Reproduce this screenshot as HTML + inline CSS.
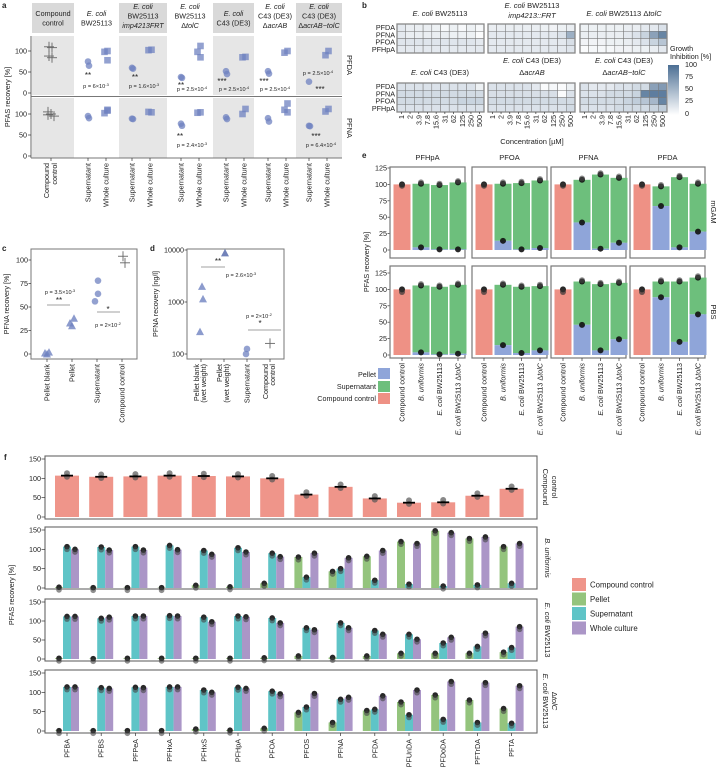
<!DOCTYPE html>
<html><head><meta charset="utf-8">
<style>
html,body{margin:0;padding:0;background:#fff;}
svg{display:block;font-family:"Liberation Sans",Arial,sans-serif;}
text{fill:#222;}
</style></head>
<body>
<svg id="s" xmlns="http://www.w3.org/2000/svg" width="718" height="774" viewBox="0 0 718 774">
<g font-weight="bold" font-size="8">
<text x="2" y="8">a</text><text x="362" y="8">b</text><text x="362" y="158">e</text>
<text x="2" y="251">c</text><text x="150" y="251">d</text><text x="4" y="460">f</text>
</g>
</svg>
<script>
var S=document.getElementById('s'),NS='http://www.w3.org/2000/svg';
function E(t,a,h){var e=document.createElementNS(NS,t);for(var k in a)e.setAttribute(k,a[k]);if(h!==undefined)e.innerHTML=h;S.appendChild(e);return e;}
function T(x,y,h,o){o=o||{};var a={x:x,y:y,'font-size':o.s||7,'text-anchor':o.a||'start'};if(o.r!==undefined)a.transform='rotate('+o.r+' '+x+' '+y+')';if(o.fill)a.fill=o.fill;return E('text',a,h);}
function R(x,y,w,h,f,o){var a={x:x,y:y,width:w,height:h,fill:f};if(o)for(var k in o)a[k]=o[k];return E('rect',a);}
function L(x1,y1,x2,y2,c,w){return E('line',{x1:x1,y1:y1,x2:x2,y2:y2,stroke:c||'#333','stroke-width':w||0.7});}
var PT='#6f82c0';
function circ(x,y,r,f,op){E('circle',{cx:x,cy:y,r:r||3.3,fill:f||PT,'fill-opacity':op||0.75});}
function sq(x,y){R(x-3.3,y-3.3,6.6,6.6,PT,{'fill-opacity':0.75});}
function cross(x,y){L(x-5,y,x+5,y,'#666',0.9);L(x,y-5,x,y+5,'#666',0.9);}
function tri(x,y,f){E('polygon',{points:(x-4)+','+(y+3.5)+' '+(x+4)+','+(y+3.5)+' '+x+','+(y-4),fill:f||PT,'fill-opacity':0.8});}

/* ===== Panel a ===== */
var cols=[[32,74,1],[75,118,0],[119,167,1],[168,212,0],[213,254,1],[255,295,0],[296,342,1]];
cols.forEach(function(c){if(c[2]){R(c[0],3,c[1]-c[0],30,'#d9d9d9');R(c[0],36,c[1]-c[0],59,'#e6e6e6');R(c[0],98,c[1]-c[0],60,'#e6e6e6');}});
var hd=[['Compound','control'],['<tspan font-style="italic">E. coli</tspan>','BW25113'],
['<tspan font-style="italic">E. coli</tspan>','BW25113','<tspan font-style="italic">imp4213FRT</tspan>'],
['<tspan font-style="italic">E. coli</tspan>','BW25113','Δ<tspan font-style="italic">tolC</tspan>'],
['<tspan font-style="italic">E. coli</tspan>','C43 (DE3)'],
['<tspan font-style="italic">E. coli</tspan>','C43 (DE3)','Δ<tspan font-style="italic">acrAB</tspan>'],
['<tspan font-style="italic">E. coli</tspan>','C43 (DE3)','Δ<tspan font-style="italic">acrAB−tolC</tspan>']];
hd.forEach(function(h,i){var cx=(cols[i][0]+cols[i][1])/2;var y0=h.length==2?16:9;h.forEach(function(s,j){T(cx,y0+j*9.5,s,{s:7.2,a:'middle'});});});
L(31,36,31,158,'#444',0.8);L(31,96.5,342,96.5,'#777',1);L(31,158,342,158,'#777',1);
function ya(v){return 93-v*0.42;}function yb(v){return 156-v*0.42;}
[[0,'0'],[50,'50'],[100,'100']].forEach(function(t){T(27,ya(t[0])+2.5,t[1],{s:7.2,a:'end'});L(28,ya(t[0]),31,ya(t[0]));T(27,yb(t[0])+2.5,t[1],{s:7.2,a:'end'});L(28,yb(t[0]),31,yb(t[0]));});
T(10,97,'PFAS recovery [%]',{s:7.2,a:'middle',r:-90});
T(347,65,'PFDA',{s:7.5,a:'middle',r:90});T(347,128,'PFNA',{s:7.5,a:'middle',r:90});
[110,108,88,84].forEach(function(v,i){cross(49+(i%2)*3,ya(v));});
[105,100,95,98].forEach(function(v,i){cross(48+(i%3)*3,yb(v));});
var up=[[[75,65],[100,98,78]],[[60,58],[103,102]],[[38,36],[112,98,85]],[[52,45],[86,85]],[[52,46],[100,96]],[[27],[100,90]]];
var lo=[[[95,90],[108,102,110]],[[89,88],[104,105]],[[77,72],[104,103]],[[92,88],[112,100]],[[90,82],[125,110,104]],[[72,71],[112,106]]];
for(var i=0;i<6;i++){var x0=cols[i+1][0];
up[i][0].forEach(function(v,j){circ(x0+13+j,ya(v));});up[i][1].forEach(function(v,j){sq(x0+31+(j%2?-1.5:1.5),ya(v));});
lo[i][0].forEach(function(v,j){circ(x0+13+j,yb(v));});lo[i][1].forEach(function(v,j){sq(x0+31+(j%2?-1.5:1.5),yb(v));});}
var an=[[88,78,'**'],[96,88,'p = 6×10<tspan font-size="4" dy="-2">-3</tspan>'],[135,80,'**'],[144,88,'p = 1.6×10<tspan font-size="4" dy="-2">-3</tspan>'],
[181,88,'**'],[192,91,'p = 2.5×10<tspan font-size="4" dy="-2">-4</tspan>'],[222,84,'***'],[234,91,'p = 2.5×10<tspan font-size="4" dy="-2">-4</tspan>'],
[264,84,'***'],[275,91,'p = 2.5×10<tspan font-size="4" dy="-2">-4</tspan>'],[318,75,'p = 2.5×10<tspan font-size="4" dy="-2">-4</tspan>'],[320,92,'***'],
[180,139,'**'],[192,147,'p = 2.4×10<tspan font-size="4" dy="-2">-3</tspan>'],[316,139,'***'],[321,147,'p = 6.4×10<tspan font-size="4" dy="-2">-4</tspan>']];
an.forEach(function(a){T(a[0],a[1],a[2],{s:a[2][0]=='*'?8:5.6,a:'middle'});});
L(51,158,51,161);T(49,163,'Compound',{s:7.2,a:'end',r:-90});T(57,163,'control',{s:7.2,a:'end',r:-90});
for(var i=1;i<7;i++){var x0=cols[i][0];L(x0+13,158,x0+13,161);L(x0+31,158,x0+31,161);
T(x0+15.5,163,'Supernatant',{s:7.2,a:'end',r:-90});T(x0+33.5,163,'Whole culture',{s:7.2,a:'end',r:-90});}

/* ===== Panel b ===== */
var hx=[397,488,580],hy=[24,83];
var HV=[
[[15,12,12,12,10,5,10,5,10,5],[15,12,12,12,12,12,10,10,10,3],[18,18,18,18,18,18,18,18,18,15],[15,15,15,15,15,15,15,15,15,15]],
[[12,12,12,12,12,12,10,8,10,12],[15,15,15,15,15,15,15,15,20,55],[15,15,15,15,15,15,15,15,15,22],[15,15,15,15,15,15,15,15,15,18]],
[[10,10,10,10,10,12,12,15,15,20],[12,12,12,12,12,15,20,30,65,85],[8,8,8,10,10,12,15,20,30,40],[3,5,5,5,8,8,10,10,12,15]],
[[20,20,20,20,20,20,20,20,20,10],[25,25,25,25,25,25,25,25,25,25],[25,25,25,25,25,25,25,30,30,30],[20,20,20,20,20,20,20,20,20,20]],
[[20,20,20,20,20,15,3,5,3,10],[22,22,22,22,22,22,22,22,3,20],[25,25,25,25,25,25,25,25,25,25],[20,20,20,20,20,20,20,20,20,25]],
[[20,15,15,15,20,20,25,25,65,70],[20,20,20,25,25,25,30,85,90,90],[25,25,25,25,25,30,35,40,50,85],[20,20,20,20,25,25,25,25,30,35]]];
function hc(v){v=v/100;var r=Math.round(255+(76-255)*v),g=Math.round(255+(111-255)*v),b=Math.round(255+(148-255)*v);return 'rgb('+r+','+g+','+b+')';}
var cl=['1','2','3.9','7.8','15.6','31','62','125','250','500'],rl=['PFDA','PFNA','PFOA','PFHpA'];
for(var p=0;p<6;p++){var gx=hx[p%3],gy=hy[Math.floor(p/3)],cw=8.7,ch=7.25;
for(var r=0;r<4;r++)for(var c=0;c<10;c++)R(gx+c*cw,gy+r*ch,cw,ch,hc(HV[p][r][c]),{stroke:'#777','stroke-width':0.5});
R(gx,gy,87,29,'none',{stroke:'#888','stroke-width':1.3});
if(p%3==0)rl.forEach(function(s,r){T(gx-2,gy+r*ch+6,s,{s:7.2,a:'end'});});
if(p>=3)cl.forEach(function(s,c){var x=gx+c*cw+cw/2;L(x,gy+29,x,gy+31);T(x+2.5,gy+32,s,{s:7.2,a:'end',r:-90});});}
T(440,16,'<tspan font-style="italic">E. coli</tspan> BW25113',{s:7.5,a:'middle'});
T(532,8,'<tspan font-style="italic">E. coli</tspan> BW25113',{s:7.5,a:'middle'});T(532,18,'<tspan font-style="italic">imp4213::FRT</tspan>',{s:7.5,a:'middle'});
T(624,16,'<tspan font-style="italic">E. coli</tspan> BW25113 Δ<tspan font-style="italic">tolC</tspan>',{s:7.5,a:'middle'});
T(440,75,'<tspan font-style="italic">E. coli</tspan> C43 (DE3)',{s:7.5,a:'middle'});
T(532,63,'<tspan font-style="italic">E. coli</tspan> C43 (DE3)',{s:7.5,a:'middle'});T(532,75,'Δ<tspan font-style="italic">acrAB</tspan>',{s:7.5,a:'middle'});
T(624,63,'<tspan font-style="italic">E. coli</tspan> C43 (DE3)',{s:7.5,a:'middle'});T(624,75,'Δ<tspan font-style="italic">acrAB−tolC</tspan>',{s:7.5,a:'middle'});
T(532,144,'Concentration [µM]',{s:7.5,a:'middle'});
T(670,51,'Growth',{s:7.2});T(670,59,'Inhibition [%]',{s:7.2});
var lg=E('linearGradient',{id:'gr',x1:0,y1:0,x2:0,y2:1});S.appendChild(lg);
lg.innerHTML='<stop offset="0" stop-color="'+hc(100)+'"/><stop offset="1" stop-color="#fff"/>';
R(668,65,11,50,'url(#gr)');
[['100',67],['75',79],['50',91],['25',103],['0',116]].forEach(function(t){T(685,t[1],t[0],{s:7.2});});

/* ===== Panel e ===== */
var ex=[390,472,551,630],ey=[[167,258,250],[266,358,355]];
var SAL='#ee9185',GRN='#6dbf7c',BLU='#8fa5d9';
var ED=[[[4,101],[1,99],[1,103]],[[14,101],[1,102],[3,106]],[[42,107],[2,115],[11,110]],[[67,97],[4,111],[28,101]],
[[4,106],[1,104],[2,107]],[[15,107],[3,104],[7,105]],[[46,112],[7,108],[24,110]],[[88,112],[20,112],[62,118]]];
var et=['PFHpA','PFOA','PFNA','PFDA'];
for(var rr=0;rr<2;rr++){var y0=ey[rr][2],k=0.656;
[0,25,50,75,100,125].forEach(function(v){var y=y0-v*k;T(387,y+2.5,''+v,{s:7.2,a:'end'});L(387.5,y,390,y);});
for(var p=0;p<4;p++){var x0=ex[p];R(x0,ey[rr][0],75,ey[rr][1]-ey[rr][0],'#fff',{stroke:'#777','stroke-width':1.2});
var cx=[x0+12,x0+31,x0+49.5,x0+68];
R(cx[0]-8.5,y0-100*k,17,100*k,SAL);circ(cx[0],y0-100*k,3,'#111',0.9);circ(cx[0],y0-(rr?96:98)*k,3,'#333',0.7);
for(var b=0;b<3;b++){var d=ED[rr*4+p][b];R(cx[b+1]-8.5,y0-d[1]*k,17,(d[1]-d[0])*k,GRN);R(cx[b+1]-8.5,y0-d[0]*k,17,d[0]*k,BLU);
circ(cx[b+1],y0-d[1]*k,3,'#111',0.9);circ(cx[b+1],y0-d[0]*k,3,'#111',0.9);circ(cx[b+1],y0-(d[1]+2)*k,3,'#444',0.6);}
if(rr==0)T(x0+37.5,160,et[p],{s:7.5,a:'middle'});
if(rr==1){var lb=['Compound control','<tspan font-style="italic">B. uniformis</tspan>','<tspan font-style="italic">E. coli</tspan> BW25113','<tspan font-style="italic">E. coli</tspan> BW25113 Δ<tspan font-style="italic">tolC</tspan>'];
cx.forEach(function(x,i){L(x,358,x,361);T(x+2.5,363,lb[i],{s:7.2,a:'end',r:-90});});}}}
T(711,212,'mGAM',{s:7.5,a:'middle',r:90});T(711,312,'PBS',{s:7.5,a:'middle',r:90});
T(369,262,'PFAS recovery [%]',{s:7.2,a:'middle',r:-90});
R(378,368,12,11,BLU);R(378,381,12,11,GRN);R(378,393,12,11,SAL);
T(376,377,'Pellet',{s:7.2,a:'end'});T(376,389,'Supernatant',{s:7.2,a:'end'});T(376,401,'Compound control',{s:7.2,a:'end'});

/* ===== Panel c ===== */
R(31,249,106,110,'none',{stroke:'#777','stroke-width':1});
function yc(v){return 354-v*0.94;}
[0,25,50,75,100].forEach(function(v){T(28,yc(v)+2.5,''+v,{s:7.2,a:'end'});L(28.5,yc(v),31,yc(v));});
T(9,304,'PFNA recovery [%]',{s:7.2,a:'middle',r:-90});
tri(45,yc(1));tri(49,yc(2));tri(47,yc(0));tri(70,yc(33));tri(74,yc(38));tri(72,yc(30));
circ(98,yc(78),3.3);circ(98,yc(64),3.3);circ(95,yc(56),3.3);cross(123,yc(104));cross(125,yc(97));
T(60,294,'p = 3.5×10<tspan font-size="4" dy="-2">-3</tspan>',{s:5.6,a:'middle'});T(59,303,'**',{s:8,a:'middle'});L(47,305,70,305,'#444',0.6);
T(108,312,'*',{s:8,a:'middle'});L(97,312,120,312,'#444',0.6);T(108,327,'p = 2×10<tspan font-size="4" dy="-2">-2</tspan>',{s:5.6,a:'middle'});
[['Pellet blank',47],['Pellet',72],['Supernatant',97],['Compound control',122]].forEach(function(t){L(t[1],359,t[1],362);T(t[1]+2.5,364,t[0],{s:7.2,a:'end',r:-90});});

/* ===== Panel d ===== */
R(187,249,97,110,'none',{stroke:'#777','stroke-width':1});
function yd(v){return 354-Math.log10(v/100)*52;}
[[100,'100'],[1000,'1000'],[10000,'10000']].forEach(function(t){T(184,yd(t[0])+2.5,t[1],{s:7.2,a:'end'});L(184.5,yd(t[0]),187,yd(t[0]));});
T(158,304,'PFNA recovery [ng/l]',{s:7.2,a:'middle',r:-90});
tri(202,yd(2000));tri(203,yd(1150));tri(200,yd(270));tri(225,yd(8800),'#4f63a8');
circ(247,yd(125),3.3);circ(246,yd(100),3.3);cross(270,yd(160));
T(218,264,'**',{s:8,a:'middle'});L(201,267,225,267,'#444',0.6);T(241,277,'p = 2.6×10<tspan font-size="4" dy="-2">-3</tspan>',{s:5.6,a:'middle'});
T(259,318,'p = 2×10<tspan font-size="4" dy="-2">-2</tspan>',{s:5.6,a:'middle'});T(260,326,'*',{s:8,a:'middle'});L(248,330,281,330,'#444',0.6);
L(201,359,201,362);T(199,364,'Pellet blank',{s:7.2,a:'end',r:-90});T(206,364,'(wet weight)',{s:7.2,a:'end',r:-90});
L(224,359,224,362);T(222,364,'Pellet',{s:7.2,a:'end',r:-90});T(229,364,'(wet weight)',{s:7.2,a:'end',r:-90});
L(247,359,247,362);T(249.5,364,'Supernatant',{s:7.2,a:'end',r:-90});
L(270,359,270,362);T(268,364,'Compound',{s:7.2,a:'end',r:-90});T(275,364,'control',{s:7.2,a:'end',r:-90});

/* ===== Panel f ===== */
var fr=[[456,519,517],[527,589,588],[599,661,659],[670,733,731]];
var FS='#ef958a',FG='#94c47d',FC='#5fc4c7',FP='#ab96c7';
var cc=[107,104,105,107,106,105,100,58,78,48,37,38,55,73];
var F=[
[[2,107,100],[1,106,98],[1,107,98],[1,110,99],[7,97,87],[3,104,93],[12,90,81],[80,28,90],[43,50,78],[82,20,97],[120,10,115],[148,5,143],[128,8,132],[107,12,115]],
[[2,112,112],[1,107,110],[2,113,113],[2,114,113],[2,110,98],[2,113,111],[3,108,95],[8,82,77],[4,95,82],[8,75,65],[15,65,52],[15,42,57],[15,33,68],[18,30,85]],
[[1,114,114],[1,112,110],[1,113,112],[1,114,114],[5,106,100],[2,113,110],[7,103,96],[48,62,97],[22,82,87],[53,56,91],[75,42,106],[93,30,128],[80,22,125],[58,20,117]]];
var fl=['PFBA','PFBS','PFPeA','PFHxA','PFHxS','PFHpA','PFOA','PFOS','PFNA','PFDA','PFUnDA','PFDoDA','PFTrDA','PFTA'];
fr.forEach(function(f,ri){var k=(f[2]-f[0]-3)/150,y0=f[2];
R(45,f[0],492,f[1]-f[0],'#fff',{stroke:'#666','stroke-width':1.1});
[0,50,100,150].forEach(function(v){var y=y0-v*k;T(41,y+2.5,''+v,{s:7.2,a:'end'});L(41.5,y,45,y);});
for(var i=0;i<14;i++){var cx=67+34.2*i;
if(ri==0){R(cx-12,y0-cc[i]*k,24,cc[i]*k,FS);circ(cx,y0-(cc[i]+6)*k,3,'#555',0.7);circ(cx,y0-(cc[i]-3)*k,3,'#555',0.7);L(cx-6,y0-cc[i]*k,cx+6,y0-cc[i]*k,'#000',1.8);}
else{var d=F[ri-1][i],cl2=[FG,FC,FP];for(var b=0;b<3;b++){var x=cx-8+b*8;R(x-4,y0-d[b]*k,8,d[b]*k,cl2[b]);circ(x,y0-d[b]*k,2.8,'#111',0.9);circ(x,y0-(d[b]-7)*k,2.8,'#444',0.6);}}}});
for(var i=0;i<14;i++){var cx=67+34.2*i;L(cx,733,cx,736);T(cx+2.5,739,fl[i],{s:7.2,a:'end',r:-90});}
T(14,595,'PFAS recovery [%]',{s:7.2,a:'middle',r:-90});
T(543,487,'Compound',{s:7.5,a:'middle',r:90});T(552,487,'control',{s:7.5,a:'middle',r:90});
T(545,558,'<tspan font-style="italic">B. uniformis</tspan>',{s:7.5,a:'middle',r:90});
T(545,630,'<tspan font-style="italic">E. coli</tspan> BW25113',{s:7.5,a:'middle',r:90});
T(543,701,'<tspan font-style="italic">E. coli</tspan> BW25113',{s:7.5,a:'middle',r:90});T(552,701,'Δ<tspan font-style="italic">tolC</tspan>',{s:7.5,a:'middle',r:90});
[[FS,'Compound control'],[FG,'Pellet'],[FC,'Supernatant'],[FP,'Whole culture']].forEach(function(l,i){var y=578+i*14.5;R(572,y,14,13,l[0]);T(590,y+9.5,l[1],{s:7.8});});
</script>
</body></html>
